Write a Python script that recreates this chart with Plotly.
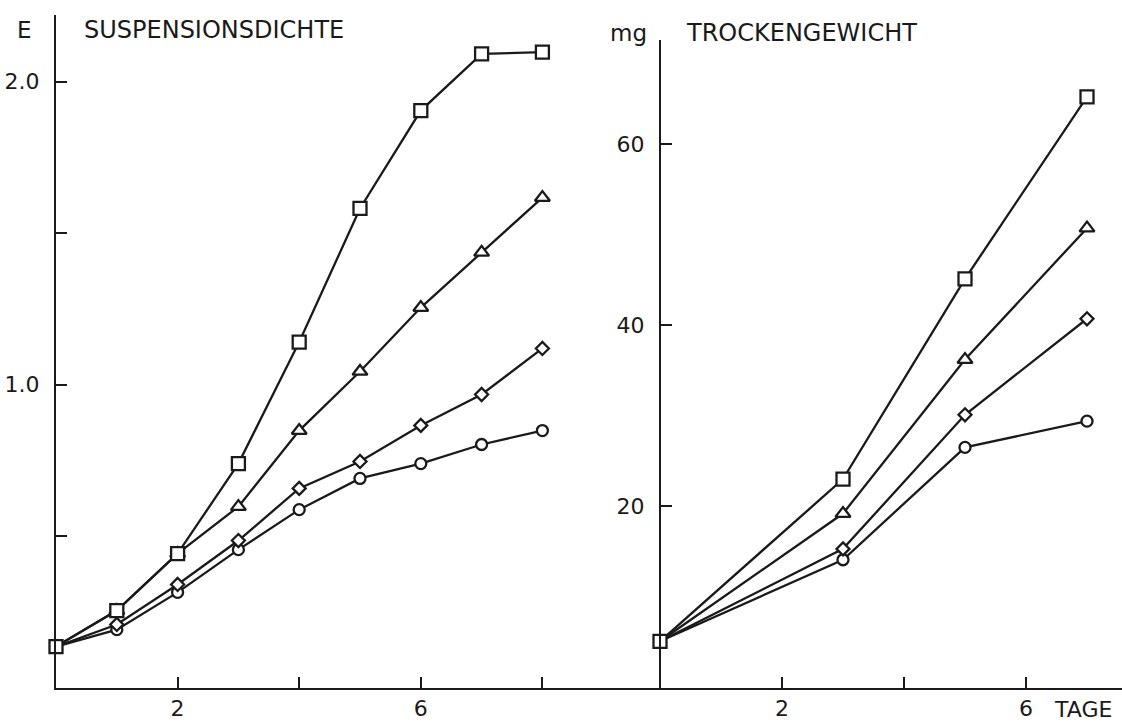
import plotly.graph_objects as go

# Suspensionsdichte (Extinktion E), daily readings
days_e = [0, 1, 2, 3, 4, 5, 6, 7, 8]
e_square = [0.135, 0.254, 0.442, 0.739, 1.14, 1.581, 1.904, 2.091, 2.097]
e_triangle = [0.135, 0.254, 0.442, 0.597, 0.848, 1.043, 1.254, 1.436, 1.617]
e_diamond = [0.135, 0.208, 0.34, 0.485, 0.657, 0.746, 0.865, 0.967, 1.119]
e_circle = [0.135, 0.191, 0.314, 0.455, 0.587, 0.69, 0.739, 0.802, 0.848]

# Trockengewicht (mg)
days_mg = [0, 3, 5, 7]
mg_square = [5.1, 23.0, 45.1, 65.2]
mg_triangle = [5.1, 19.2, 36.2, 50.7]
mg_diamond = [5.1, 15.3, 30.1, 40.7]
mg_circle = [5.1, 14.1, 26.5, 29.4]

# tick positions / labels
e_xticks = [2, 4, 6, 8]
e_xlabels = ["2", "", "6", ""]
e_yticks = [0.5, 1.0, 1.5, 2.0]
e_ylabels = ["", "1.0", "", "2.0"]
mg_xticks = [2, 4, 6]
mg_xlabels = ["2", "", "6"]
mg_yticks = [20, 40, 60]
mg_ylabels = ["20", "40", "60"]

INK = "#1a1a1a"
FONT = "DejaVu Sans"
W, H = 1122, 722

# marker style per series: (symbol, size)
styles = {
    "circle": ("circle", 11),
    "diamond": ("diamond", 10),
    "triangle": ("triangle-up", 13),
    "square": ("square", 13),
}


def px_x(p):
    return p / W


def px_y(p):
    return 1 - p / H


fig = go.Figure()


def add_series(x, y, kind, xa, ya):
    symbol, size = styles[kind]
    # the common starting value is marked only by the square
    show = [1 if (i > 0 or kind == "square") else 0 for i in range(len(x))]
    fig.add_trace(go.Scatter(
        x=x, y=y, mode="lines+markers", xaxis=xa, yaxis=ya,
        line=dict(color=INK, width=2.3),
        marker=dict(symbol=symbol, size=size, color="white", opacity=show,
                    line=dict(color=INK, width=2.3)),
        cliponaxis=False, showlegend=False, hoverinfo="x+y",
    ))


for kind, ys in [("circle", e_circle), ("diamond", e_diamond),
                 ("triangle", e_triangle), ("square", e_square)]:
    add_series(days_e, ys, kind, "x", "y")

for kind, ys in [("circle", mg_circle), ("diamond", mg_diamond),
                 ("triangle", mg_triangle), ("square", mg_square)]:
    add_series(days_mg, ys, kind, "x2", "y2")

axis_common = dict(
    showgrid=False, zeroline=False, showline=True, linecolor=INK, linewidth=2,
    ticks="inside", ticklen=11, tickwidth=2, tickcolor=INK,
    tickfont=dict(family=FONT, size=22, color=INK),
    tickmode="array", fixedrange=True,
)

bottom = px_y(687.5)
x_split = 601

fig.update_layout(
    width=W, height=H,
    margin=dict(l=0, r=0, t=0, b=0),
    paper_bgcolor="white", plot_bgcolor="white",
    showlegend=False,
    xaxis=dict(axis_common, domain=[px_x(56), px_x(x_split)],
               range=[0, (x_split - 56) / 60.8],
               tickvals=e_xticks, ticktext=e_xlabels,
               anchor="y", ticklabelstandoff=0),
    yaxis=dict(axis_common, domain=[bottom, px_y(15)],
               range=[0, (687.5 - 15) / 303.0],
               tickvals=e_yticks, ticktext=e_ylabels,
               anchor="x", ticklabelstandoff=10),
    xaxis2=dict(axis_common, domain=[px_x(x_split), 1],
                range=[(x_split - 660) / 61.0, (W - 660) / 61.0],
                tickvals=mg_xticks, ticktext=mg_xlabels,
                anchor="y2", ticklabelstandoff=0),
    yaxis2=dict(axis_common, domain=[bottom, px_y(40)],
                range=[0, (687.5 - 40) / 9.06],
                tickvals=mg_yticks, ticktext=mg_ylabels,
                anchor="free", position=px_x(660), ticklabelstandoff=10),
)

labels = [
    ("E", 24, 30, "center", 23),
    ("SUSPENSIONSDICHTE", 82, 30, "left", 24),
    ("mg", 628, 33, "center", 23),
    ("TROCKENGEWICHT", 684, 33, "left", 24),
    ("TAGE", 1052, 709, "left", 22),
]
for text, x, y, anchor, size in labels:
    fig.add_annotation(
        text=text, xref="paper", yref="paper", x=px_x(x), y=px_y(y),
        xanchor=anchor, yanchor="middle", showarrow=False,
        font=dict(family=FONT, size=size, color=INK),
    )

fig.write_html("out.html")
